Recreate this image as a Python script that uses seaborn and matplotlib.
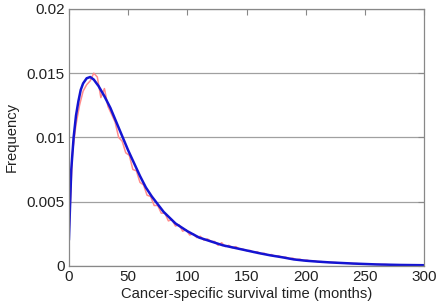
import matplotlib
matplotlib.use("Agg")
import matplotlib.pyplot as plt
import seaborn as sns
import pandas as pd

# fitted density (blue)
fit_months = [0, 2, 4, 6, 8, 10, 12, 15, 18, 21, 25, 30, 35, 40, 45, 50, 55, 60, 65, 70,
              75, 80, 90, 100, 110, 120, 130, 140, 150, 160, 170, 180, 190, 200, 210, 220,
              240, 260, 280, 300]
fit_freq = [0.0020, 0.0075, 0.0100, 0.0117, 0.0128, 0.0137, 0.0142, 0.0146, 0.0147, 0.0145,
            0.0140, 0.0132, 0.0123, 0.0112, 0.0101, 0.0090, 0.0080, 0.0070, 0.0061, 0.0054,
            0.0048, 0.0042, 0.0033, 0.0027, 0.0022, 0.0019, 0.0016, 0.0014, 0.0012, 0.00100,
            0.00082, 0.00067, 0.00050, 0.00040, 0.00033, 0.00027, 0.00018, 0.00011, 0.00007,
            0.00005]

# empirical histogram (red), every 3 months
emp_months = list(range(0, 273, 3))
emp_freq = [0.0022, 0.0088, 0.0110, 0.0125, 0.0136, 0.0141, 0.0144, 0.0150, 0.0147, 0.0131,
            0.0138, 0.0124, 0.0118, 0.0112, 0.0100, 0.0097, 0.0088, 0.0086, 0.0075, 0.0074,
            0.0065, 0.0063, 0.0055, 0.0054, 0.0047, 0.0047, 0.0041, 0.0041, 0.0035, 0.0036,
            0.0031, 0.0032, 0.0027, 0.0028, 0.0024, 0.0025, 0.0022, 0.0023, 0.0020, 0.0021,
            0.0019, 0.0019, 0.0016, 0.0018, 0.0015, 0.0016, 0.0014, 0.0015, 0.0013, 0.0013,
            0.00118, 0.0012, 0.00105, 0.0011, 0.00095, 0.00098, 0.00084, 0.00088, 0.00074,
            0.00078, 0.00066, 0.00068, 0.00056, 0.00060, 0.00049, 0.00052, 0.00042, 0.00045,
            0.00036, 0.00040, 0.00033, 0.00033, 0.00030, 0.00029, 0.00027, 0.00026, 0.00023,
            0.00023, 0.00020, 0.00020, 0.00018, 0.00018, 0.00015, 0.00016, 0.00013, 0.00014,
            0.00012, 0.00012, 0.00010, 0.00011, 0.00009]

x_ticks = [0, 50, 100, 150, 200, 250, 300]
y_ticks = [0, 0.005, 0.01, 0.015, 0.02]
y_tick_labels = ["0", "0.005", "0.01", "0.015", "0.02"]

sns.set_style("white")
plt.rcParams['font.family'] = ['Liberation Sans', 'DejaVu Sans']

fig = plt.figure(figsize=(4.36, 3.07), dpi=100)
ax = fig.add_axes([0.158, 0.134, 0.815, 0.837])

emp = pd.DataFrame({"month": emp_months, "freq": emp_freq})
fit = pd.DataFrame({"month": fit_months, "freq": fit_freq})
sns.lineplot(data=emp, x="month", y="freq", color="#ff8c8c", lw=1.1, ax=ax)
sns.lineplot(data=fit, x="month", y="freq", color="#1414d2", lw=1.8, ax=ax)

ax.set_xlim(0, 300)
ax.set_ylim(0, 0.02)
ax.set_xticks(x_ticks)
ax.set_yticks(y_ticks)
ax.set_yticklabels(y_tick_labels)
ax.yaxis.grid(True, color="#a0a0a0", lw=0.9)
ax.set_axisbelow(True)
ax.tick_params(direction="in", length=4, color="#888888", top=True, right=True,
               labelsize=11, labelcolor="#222222", pad=3)
for s in ax.spines.values():
    s.set_color("#888888")
    s.set_linewidth(0.9)
ax.set_xlabel("Cancer-specific survival time (months)", fontsize=10.6, color="#222222", labelpad=2)
ax.set_ylabel("Frequency", fontsize=10.6, color="#222222", labelpad=6)

fig.savefig("out.png", dpi=100)
